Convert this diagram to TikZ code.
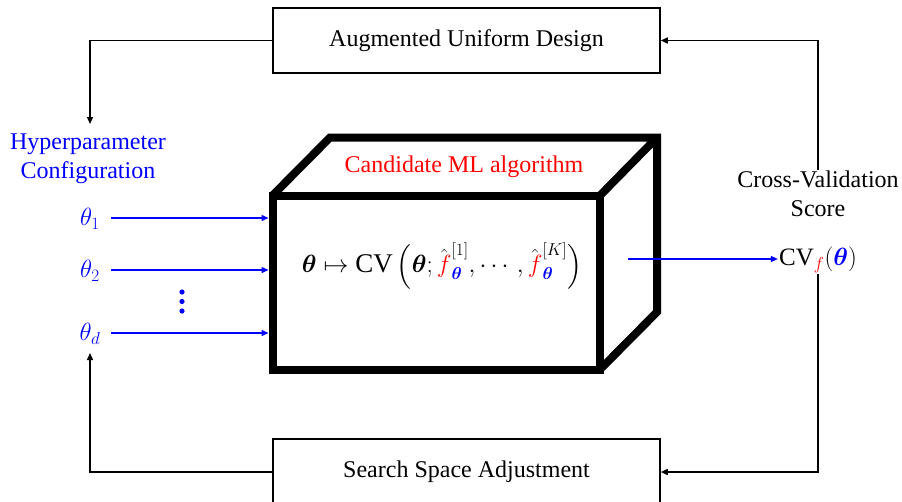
\documentclass[tikz,border=0pt]{standalone}
\usepackage{fontspec}
\usepackage{amsmath,bm}
\setmainfont{Liberation Serif}
\usetikzlibrary{arrows.meta}
\begin{document}
\begin{tikzpicture}[x=1pt,y=-1pt,
  lbl/.style={font=\fontsize{24}{29}\selectfont, inner sep=1pt},
  boxn/.style={draw, line width=1.5pt, minimum width=387pt, minimum height=65pt, font=\fontsize{24}{29}\selectfont},
  conn/.style={line width=1.4pt, -{Triangle[length=7pt,width=6pt]}},
  bconn/.style={blue, line width=1.4pt, -{Triangle[length=7pt,width=6pt]}},
  cube/.style={line width=8pt, line join=miter}]
\useasboundingbox (0,0) rectangle (902,501);
% boxes
\node[boxn] (top) at (466.5,40.5) {Augmented Uniform Design};
\node[boxn, minimum height=66pt] (bot) at (466.5,472) {Search Space Adjustment};
% cube
\draw[cube] (272.5,195.5) -- (330,137.5) -- (657,137.5) -- (657,312) -- (600,369.5);
\draw[cube] (600,195.5) -- (657,137.5);
\node[draw, cube, minimum width=327.5pt, minimum height=174pt, inner sep=0pt] (front) at (436.25,282.5) {};
\node[lbl, red] (alg) at (464,167) {Candidate ML algorithm};
\node[lbl, font=\fontsize{27}{32}\selectfont] (form) at (442,266)
  {$\bm{\theta}\mapsto \mathrm{CV}\left(\bm{\theta};\hat{\textcolor{red}{f}}^{[1]}_{\textcolor{blue}{\bm{\theta}}},\cdots,\hat{\textcolor{red}{f}}^{[K]}_{\textcolor{blue}{\bm{\theta}}}\right)$};
% left labels
\node[lbl, blue, align=center] (hp) at (88,159) {Hyperparameter\\Configuration};
\node[lbl, blue, font=\fontsize{25}{29}\selectfont] (th1) at (90,219) {$\theta_1$};
\node[lbl, blue, font=\fontsize{25}{29}\selectfont] (th2) at (90,271) {$\theta_2$};
\node[lbl, blue, font=\fontsize{25}{29}\selectfont] (thd) at (90,334) {$\theta_d$};
\fill[blue] (182,292) circle (2.6pt) (182,301.5) circle (2.6pt) (182,311) circle (2.6pt);
% right labels
\node[lbl, align=center] (cvs) at (818,194) {Cross-Validation\\Score};
\node[lbl, font=\fontsize{25}{29}\selectfont] (cvf) at (818,260) {$\mathrm{CV}_{\textcolor{red}{f}}(\textcolor{blue}{\bm{\theta}})$};
% coordinates
\coordinate (a1) at (90,124);
\coordinate (a2) at (90,353);
\coordinate (outs) at (628,259);
% blue arrows
\draw[bconn] (111,218) -- (front.west |- 0,218);
\draw[bconn] (111,270) -- (front.west |- 0,270);
\draw[bconn] (111,333) -- (front.west |- 0,333);
\draw[bconn] (outs) -- (cvf.west |- outs);
% black connectors
\draw[conn] (top.west) -| (a1);
\draw[conn] (bot.west) -| (a2);
\draw[conn] (cvs.north) |- (top.east);
\draw[conn] (cvf.south -| cvs.north) |- (bot.east);
\end{tikzpicture}
\end{document}
